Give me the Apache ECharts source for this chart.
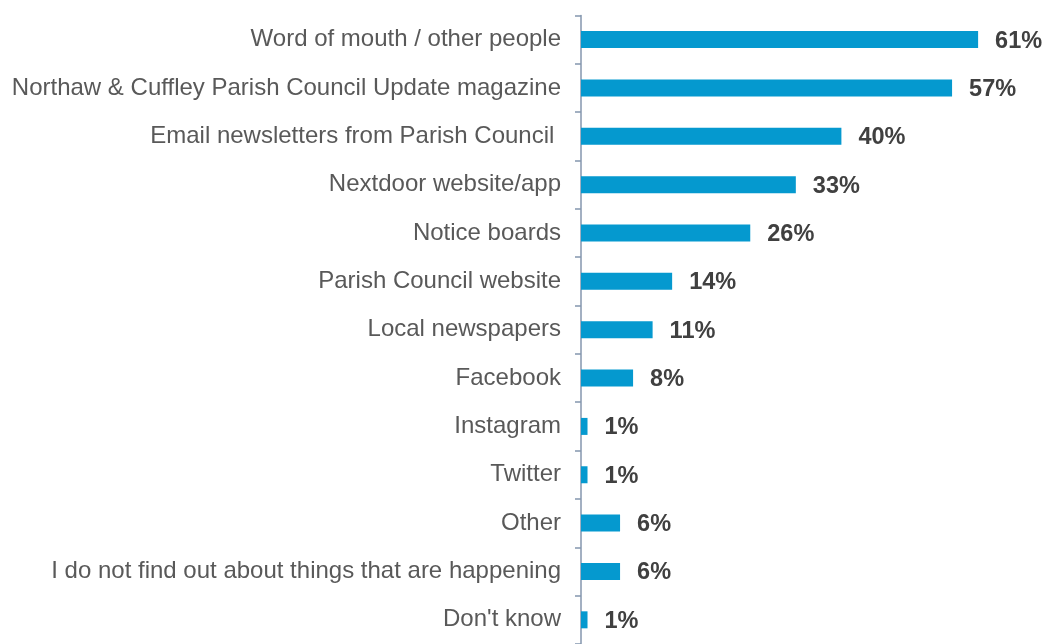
<!DOCTYPE html>
<html>
<head>
<meta charset="utf-8">
<script src="https://cdn.jsdelivr.net/npm/echarts@6/dist/echarts.min.js"></script>
<style>
  html, body { margin: 0; padding: 0; background: #ffffff; }
  #chart { width: 1044px; height: 644px; }
</style>
</head>
<body>
<div id="chart"></div>
<script>
// How residents find out about things happening locally (% of respondents)
const categories = [
  "Word of mouth / other people",
  "Northaw & Cuffley Parish Council Update magazine",
  "Email newsletters from Parish Council ",
  "Nextdoor website/app",
  "Notice boards",
  "Parish Council website",
  "Local newspapers",
  "Facebook",
  "Instagram",
  "Twitter",
  "Other",
  "I do not find out about things that are happening",
  "Don't know"
];
const values = [61, 57, 40, 33, 26, 14, 11, 8, 1, 1, 6, 6, 1];

const chart = echarts.init(document.getElementById('chart'), null, { renderer: 'canvas' });
chart.setOption({
  animation: false,
  backgroundColor: '#ffffff',
  grid: { left: 581, top: 15.4, width: 455.7, height: 634.8, containLabel: false },
  xAxis: {
    type: 'value', min: 0, max: 70,
    show: false
  },
  yAxis: {
    type: 'category',
    data: categories,
    inverse: true,
    axisLine: { show: true, lineStyle: { color: '#8496AE', width: 1.5 } },
    axisTick: { show: true, length: 6, lineStyle: { color: '#8496AE', width: 1.5 } },
    axisLabel: {
      color: '#595959', fontSize: 24, margin: 20,
      padding: [3, 0, 0, 0],
      fontFamily: 'Liberation Sans, Arial, sans-serif'
    },
    splitLine: { show: false }
  },
  series: [{
    type: 'bar',
    data: values,
    barWidth: 17,
    itemStyle: { color: '#0599CF' },
    label: {
      show: true, position: 'right', distance: 17, offset: [0, 1.5],
      formatter: p => p.value + '%',
      color: '#404040', fontSize: 23.5, fontWeight: 'bold',
      fontFamily: 'Liberation Sans, Arial, sans-serif'
    }
  }]
});
</script>
</body>
</html>
